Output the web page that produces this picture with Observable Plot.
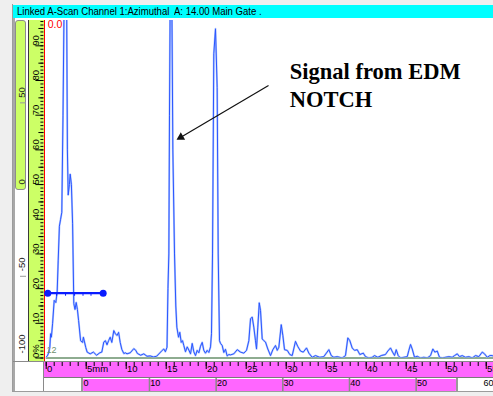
<!DOCTYPE html>
<html><head><meta charset="utf-8">
<script src="https://cdn.jsdelivr.net/npm/d3@7"></script>
<script src="https://cdn.jsdelivr.net/npm/@observablehq/plot@0.6"></script>
<style>
body{margin:0;background:#efefef;}
#root{position:relative;width:493px;height:396px;overflow:hidden;background:#efefef;font-family:"Liberation Sans",Arial,sans-serif;}
.r{position:absolute;}
.tt{position:absolute;top:5px;line-height:13px;font-size:10px;color:#000;white-space:pre;transform:scaleX(0.955);transform-origin:0 50%;}
</style></head><body>
<div id="root">
 <div class="r" style="left:13px;top:18px;width:480px;height:374px;background:#fff"></div>
 <div class="r" style="left:12px;top:4px;width:1px;height:388px;background:#9c9c9c"></div>
 <div class="r" style="left:13px;top:5px;width:480px;height:13px;background:#00ffff"></div>
 <div class="tt" style="left:17px">Linked A-Scan Channel 1:Azimuthal</div>
 <div class="tt" style="left:174px">A: 14.00 Main Gate .</div>
 <div class="r" style="left:13px;top:18px;width:1.5px;height:373px;background:#a8a8a8"></div>
 <div class="r" style="left:15px;top:20px;width:11px;height:170px;background:#ccff66;border:1px solid #8c8c8c;border-radius:3px;box-sizing:border-box"></div>
 <div class="r" style="left:28px;top:20px;width:1px;height:341px;background:#3a3a3a"></div>
 <div class="r" style="left:29px;top:20px;width:14.5px;height:341px;background:#ccff66"></div>
 <div class="r" style="left:43.5px;top:20px;width:1px;height:341px;background:#ff0000"></div>
 <div class="r" style="left:13px;top:361px;width:480px;height:1px;background:#8a8a8a"></div>
 <div class="r" style="left:44px;top:362px;width:449px;height:15px;background:#ff66ff"></div>
 <div class="r" style="left:44px;top:377px;width:449px;height:1px;background:#7a7a7a"></div>
 <div class="r" style="left:43px;top:361px;width:1px;height:31px;background:#8a8a8a"></div>
 <div class="r" style="left:80.5px;top:378px;width:2px;height:13px;background:#9a9a9a"></div>
 <div class="r" style="left:82.5px;top:379px;width:373px;height:12px;background:#ff66ff;border-radius:1px"></div>
 <div class="r" style="left:456px;top:378px;width:2px;height:13px;background:#9a9a9a"></div>
 <div class="r" style="left:12px;top:391px;width:481px;height:1px;background:#9c9c9c"></div>
 <div id="chart" class="r" style="left:0;top:0"></div>
</div>
<script>
// A-scan trace: sound path (mm) and amplitude (% full screen height)
const traceMm = [
 0, 0.15, 0.3, 0.45, 0.55, 0.65, 0.8, 1.0, 1.2, 1.37, 1.5, 1.65, 1.8, 1.95, 2.1, 2.25, 2.4, 2.55, 2.65, 2.75,
 2.9, 3.0, 3.15, 3.3, 3.45, 3.6, 3.75, 3.9, 4.05, 4.3, 4.55, 4.65, 4.95, 5.12, 5.5, 5.9, 6.3, 6.7, 6.95, 7.2,
 7.4, 7.6, 7.8, 8.0, 8.2, 8.45, 8.65, 8.85, 9.05, 9.25, 9.45, 9.7, 9.9, 10.1, 10.5, 10.95, 11.2, 11.4, 11.8, 12.2,
 12.6, 13.0, 13.4, 13.8, 14.3, 14.5, 14.7, 14.9, 15.1,
 15.22, 15.33, 15.41, 15.5, 15.6, 15.7, 15.83, 16.04, 16.2, 16.33, 16.54, 16.7, 16.88, 17.04, 17.2, 17.41, 17.63, 17.83, 18.04, 18.25,
 18.45, 18.66, 18.87, 19.08, 19.29, 19.5, 19.7, 19.91, 20.12, 20.33, 20.54, 20.66, 20.79, 20.95, 21.16, 21.37, 21.5, 21.66, 21.79, 22.0,
 22.2, 22.41, 22.62, 22.83,
 23.04, 23.45, 23.88, 24.29, 24.7, 25.04, 25.33, 25.54, 25.75, 25.95, 26.16, 26.29, 26.45, 26.63, 26.79, 27.0, 27.2, 27.41, 27.7, 28.04,
 28.33, 28.66, 28.88, 29.08, 29.38, 29.58, 29.79, 30.13, 30.45, 30.75, 31.16, 31.45, 31.79, 32.13, 32.54, 32.83, 33.25, 33.66, 34.2, 34.7,
 35.33, 35.63, 35.95, 36.38, 37.0, 37.41, 37.7, 37.95, 38.25, 38.54, 38.88, 39.2, 39.63, 39.91, 40.33, 40.75, 41.04, 41.45, 41.88, 42.41,
 42.7, 43.04, 43.29, 43.54, 43.75, 44.0, 44.29, 44.7, 45.13, 45.33, 45.54, 45.75, 46.04, 46.38, 46.79, 47.2, 47.63, 48.04, 48.33, 48.58,
 48.88, 49.16, 49.5, 49.91, 50.33, 50.75, 51.04, 51.38, 51.66, 52.0, 52.41, 52.83, 53.25, 53.66, 54.08, 54.5, 54.79, 55.13, 55.45, 55.75, 55.91
];
const traceAmp = [
 0.3, 0.6, 1.5, 3, 7, 6, 10, 16.6, 16, 19, 28, 38, 40, 42, 70, 105, 130, 105, 60, 47,
 50, 53, 50, 38.7, 15.7, 14, 16, 14, 10.8, 5, 4.5, 6, 3, 1.7, 1.2, 1.7, 0.8, 1.5, 1.7, 4.6,
 5, 3.8, 5, 6, 4.5, 7.9, 7, 6.5, 7.4, 4.5, 2.5, 1.3, 1.5, 1.2, 1.5, 2.7, 2.2, 1.3, 0.8, 1.2,
 0.5, 0.6, 0.3, 0.5, 1.7, 2.2, 2.6, 1.8, 3.1,
 20, 30, 70, 105, 130, 105, 60, 30, 15, 8.9, 6, 7.4, 4.5, 5, 3.6, 1.8, 3.2, 2.3, 1.2, 4.2,
 1.8, 0.7, 2.2, 1.5, 3.4, 4.5, 2.2, 1.4, 2.2, 1.6, 3.2, 7, 30, 87.7, 94.9, 78, 30, 5, 4.2, 3.6,
 1.6, 2.5, 0.6, 1.0,
 0.9, 1.2, 2.4, 1.7, 1.4, 2.2, 5, 11.3, 11.8, 8.9, 5, 2.6, 8.9, 15.9, 13.7, 5.5, 5, 4.6, 2.6, 0.7,
 2.4, 3.6, 2.2, 3.1, 9.6, 6.5, 2.4, 2.2, 1, 0.7, 4.8, 3.3, 2, 1.7, 2.9, 1.4, 0.2, 0.7, 0.2, 0.4,
 2.4, 0.7, 0.2, 0.4, 0, 0.7, 5.8, 5, 2.9, 2.2, 2.4, 1, 1.4, 0.4, 0, 0.2, 0.7, 0.2, 0.7, 1,
 2, 2.9, 1.7, 0.7, 2.4, 0.7, 0, 0.2, 0.4, 2.2, 3.9, 2.6, 0.2, 0.5, 0, 0.2, 0, 0.7, 2.6, 1.7,
 2, 0.2, 0, 0.2, 0.4, 0.2, 0.7, 1.2, 0.4, 0.7, 0.2, 0.4, 0, 0.7, 0.4, 1.7, 1.2, 0.2, 0.7, 0.7, 0.5
];
const trace = traceMm.map((x, i) => ({x, y: traceAmp[i]}));

// axes / rulers
const xDomain = [0, 55.91];
const yDomain = [0, 97.3];
const rulerMinor = d3.range(0, 56, 1);
const rulerMajor = d3.range(0, 56, 5);
const rulerLabel = d => d === 5 ? "5mm" : String(d);
const row2Ticks = [0, 10, 20, 30, 40, 50, 60];
const row2Offset = 4.575, row2Scale = 5 / 6;   // second scale units -> mm
const ampMinor = d3.range(0, 98, 1);
const ampMid = d3.range(5, 98, 10);
const ampMajor = d3.range(0, 98, 10);
const ampLabels = d3.range(0, 100, 10);
const leftScale = [50, 0, -50, -100];          // -100..100 mapped to 0..100 %

// gate
const gate = [{x1: 0.2, x2: 7.12, y: 18.7}];
const gateTicks = [1.3, 2.42, 3.55, 4.6, 5.6];

// annotation
const arrowTail = [27.79, 78.55];
const arrowHead = [16.29, 62.9];
const noteLines = [{text: "Signal from EDM", x: 30.45, y: 80.49}, {text: "NOTCH", x: 30.45, y: 72.3}];

const pxPerMm = (493 - 45.7) / (xDomain[1] - xDomain[0]);
const pxPerPct = (357.5 - 20) / (yDomain[1] - yDomain[0]);
const dxp = (arrowHead[0] - arrowTail[0]) * pxPerMm, dyp = -(arrowHead[1] - arrowTail[1]) * pxPerPct;
const len = Math.hypot(dxp, dyp), ux = dxp / len, uy = dyp / len;
const headAngle = Math.atan2(ux, -uy) * 180 / Math.PI;
const headCenter = [arrowHead[0] - 5 * ux / pxPerMm, arrowHead[1] + 5 * uy / pxPerPct];

const font = "Liberation Sans, Arial, sans-serif";
const chart = Plot.plot({
  width: 493, height: 396,
  marginLeft: 45.7, marginRight: 0, marginTop: 20, marginBottom: 38.5,
  style: {background: "none", fontFamily: font, overflow: "hidden"},
  x: {domain: xDomain},
  y: {domain: yDomain},
  marks: [
    Plot.ruleY([0], {stroke: "#1f5a22", strokeWidth: 1.2}),
    Plot.line(trace, {x: "x", y: "y", stroke: "#b4c8ff", strokeWidth: 2, clip: true}),
    Plot.line(trace, {x: "x", y: "y", stroke: "#2a56ff", strokeWidth: 1, clip: true}),
    // gate
    Plot.ruleY(gate, {x1: "x1", x2: "x2", y: "y", stroke: "#0a1cff", strokeWidth: 2.2}),
    Plot.ruleX(gateTicks, {x: d => d, y1: gate[0].y, y2: gate[0].y - 0.9, stroke: "#0a1cff", strokeWidth: 1}),
    Plot.dot([gate[0].x1, gate[0].x2], {x: d => d, y: () => gate[0].y, r: 3.5, fill: "#0a1cff"}),
    // amplitude scale (lime)
    Plot.axisY(ampMinor, {anchor: "left", tickSize: 3, dx: -2.3, stroke: "#000", fill: "none", label: null}),
    Plot.axisY(ampMid, {anchor: "left", tickSize: 5, dx: -2.3, stroke: "#000", fill: "none", label: null}),
    Plot.axisY(ampMajor, {anchor: "left", tickSize: 8, dx: -2.3, stroke: "#000", fill: "none", label: null}),
    Plot.text(ampLabels, {y: d => d, text: d => d === 0 ? "0%" : String(d), frameAnchor: "left", dx: -10.5, rotate: -90, fontSize: 9.5, fill: "#000"}),
    // left indicator scale
    Plot.axisY([75, 25], {anchor: "left", tickSize: 6, dx: -19.7, dy: 5, stroke: "#9a9a9a", fill: "none", label: null}),
    Plot.text(leftScale, {y: d => Math.max((d + 100) / 2, 1.3), text: d => String(d), frameAnchor: "left", dx: -24, rotate: -90, fontSize: 9.5, fill: "#222"}),
    // ruler (mm)
    Plot.axisX(rulerMinor, {anchor: "bottom", tickSize: 4, dy: 4.5, stroke: "#000", fill: "none", label: null}),
    Plot.axisX(rulerMajor, {anchor: "bottom", tickSize: 7, dy: 4.5, stroke: "#000", fill: "none", label: null}),
    Plot.text(rulerMajor, {x: d => d, text: rulerLabel, frameAnchor: "bottom", dy: 13.5, dx: 0.8, textAnchor: "start", fontSize: 9.5, fill: "#000"}),
    // second scale row
    Plot.axisX(row2Ticks.slice(1, 6).map(u => row2Offset + u * row2Scale), {anchor: "bottom", tickSize: 13, dy: 20.5, stroke: "#8a8a8a", strokeWidth: 1.5, fill: "none", label: null}),
    Plot.text(row2Ticks, {x: u => row2Offset + u * row2Scale, text: u => String(u), frameAnchor: "bottom", dy: 27.8, dx: 0.8, textAnchor: "start", fontSize: 9, fill: "#000"}),
    // small labels in plot
    Plot.text(["0.0"], {frameAnchor: "top-left", dx: 1.5, dy: 0.5, lineAnchor: "top", textAnchor: "start", fill: "#ff0000", fontSize: 10.5}),
    Plot.text(["12"], {frameAnchor: "bottom-left", dx: 0.3, dy: -5.5, textAnchor: "start", fill: "#6f8f6f", fontSize: 9}),
    // annotation
    Plot.link([0], {x1: () => arrowTail[0], y1: () => arrowTail[1], x2: () => headCenter[0], y2: () => headCenter[1], stroke: "#111", strokeWidth: 1.2}),
    Plot.dot([0], {x: () => headCenter[0], y: () => headCenter[1], symbol: "triangle", r: 3.2, rotate: headAngle, fill: "#111", stroke: "none"}),
    Plot.text(noteLines, {x: "x", y: "y", text: "text", lineAnchor: "bottom", textAnchor: "start", fontFamily: "Liberation Serif, Times New Roman, serif", fontWeight: "bold", fontSize: 22.5, fill: "#000"})
  ]
});
document.getElementById("chart").appendChild(chart);
</script>
</body></html>
